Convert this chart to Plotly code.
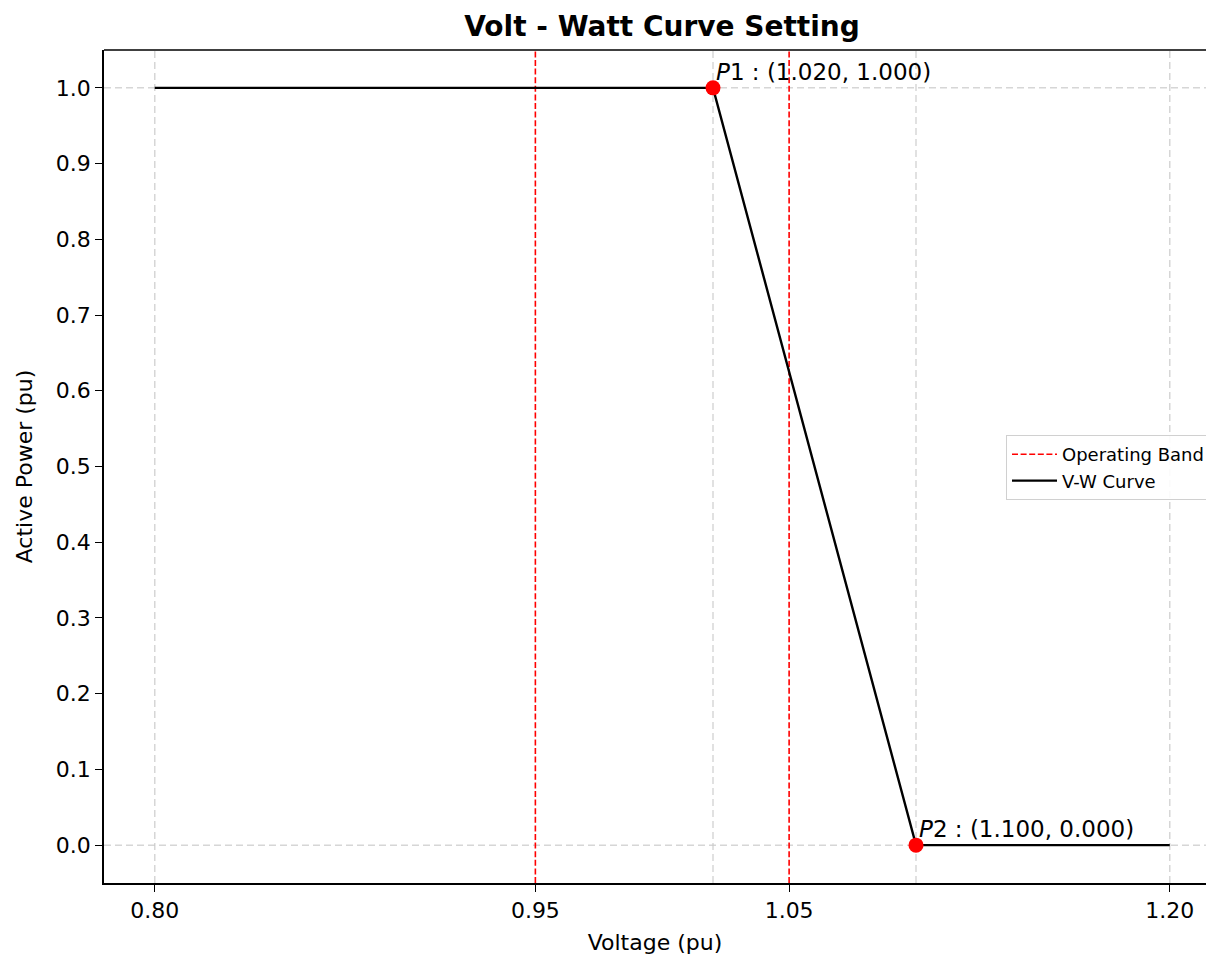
import plotly.graph_objects as go

# ---- data ----
curve_v = [0.80, 1.02, 1.10, 1.20]
curve_p = [1.0, 1.0, 0.0, 0.0]
point_names = ["P1", "P2"]
point_v = [1.02, 1.10]
point_p = [1.0, 0.0]
band_v = [0.95, 1.05]
ref_v = [0.80, 1.02, 1.10, 1.20]
ref_p = [0.0, 1.0]
xtick_vals = [0.80, 0.95, 1.05, 1.20]
xtick_text = ["0.80", "0.95", "1.05", "1.20"]
ytick_vals = [0.0, 0.1, 0.2, 0.3, 0.4, 0.5, 0.6, 0.7, 0.8, 0.9, 1.0]
ytick_text = ["0.0", "0.1", "0.2", "0.3", "0.4", "0.5", "0.6", "0.7", "0.8", "0.9", "1.0"]

FONT = "DejaVu Sans"
W, H = 1206, 959
ML, MT, MB, MR = 104, 50, 76, 0
X0 = 0.78
PX_PER_X = 2537.5
x_range = [X0, X0 + (W - ML - MR) / PX_PER_X]
y_range = [-0.05, 1.05]
PH = H - MT - MB

fig = go.Figure()

# gray reference lines
for v in ref_v:
    fig.add_vline(x=v, line=dict(color="rgba(200,200,200,0.75)", width=1.5, dash="7px,4px"), layer="below")
for p in ref_p:
    fig.add_hline(y=p, line=dict(color="rgba(200,200,200,0.75)", width=1.5, dash="7px,4px"), layer="below")

# operating band lines
for i, v in enumerate(band_v):
    fig.add_vline(x=v, line=dict(color="red", width=1.6, dash="6px,2.6px"), layer="below",
                  showlegend=(i == 0), name="Operating Band", legendrank=1)

fig.add_trace(go.Scatter(x=curve_v, y=curve_p, mode="lines", name="V-W Curve",
                         line=dict(color="black", width=2.4), legendrank=2))
fig.add_trace(go.Scatter(x=point_v, y=point_p, mode="markers", showlegend=False,
                         marker=dict(color="red", size=15)))

for n, v, p in zip(point_names, point_v, point_p):
    fig.add_annotation(x=v, y=p, xref="x", yref="y",
                       text=f"<i>P</i>{n[1:]} : ({v:.3f}, {p:.3f})",
                       showarrow=False, xanchor="left", yanchor="bottom",
                       xshift=1, yshift=1, font=dict(family=FONT, size=23, color="black"))

# top spine
fig.add_shape(type="line", xref="paper", yref="paper", x0=0, x1=1, y0=1, y1=1,
              line=dict(color="black", width=1.5))

fig.update_layout(
    width=W, height=H,
    margin=dict(l=ML, r=MR, t=MT, b=MB, autoexpand=False),
    paper_bgcolor="white", plot_bgcolor="white",
    font=dict(family=FONT, size=22, color="black"),
    title=dict(text="<b>Volt - Watt Curve Setting</b>", x=(662 - ML) / (W - ML - MR), xref="paper",
               xanchor="center", y=1 - 26 / H, yref="container", yanchor="middle",
               font=dict(family=FONT, size=28, color="black")),
    xaxis=dict(range=x_range, tickvals=xtick_vals, ticktext=xtick_text, showgrid=False,
               zeroline=False, showline=True, linecolor="black", linewidth=1.5,
               ticks="outside", ticklen=7, tickwidth=1.3, tickcolor="black",
               title=dict(text="Voltage (pu)", standoff=12, font=dict(size=22))),
    yaxis=dict(range=y_range, tickvals=ytick_vals, ticktext=ytick_text, showgrid=False,
               zeroline=False, showline=True, linecolor="black", linewidth=1.5,
               ticks="outside", ticklen=7, tickwidth=1.3, tickcolor="black",
               title=dict(text="Active Power (pu)", standoff=17, font=dict(size=22))),
    legend=dict(x=(1006 - ML) / (W - ML - MR), y=(MT + PH - 435) / PH,
                xanchor="left", yanchor="top", bgcolor="rgba(255,255,255,0.9)",
                bordercolor="#d0d0d0", borderwidth=1, font=dict(family=FONT, size=18),
                itemwidth=45, tracegroupgap=0),
    showlegend=True,
)

fig.write_html("out.html")
